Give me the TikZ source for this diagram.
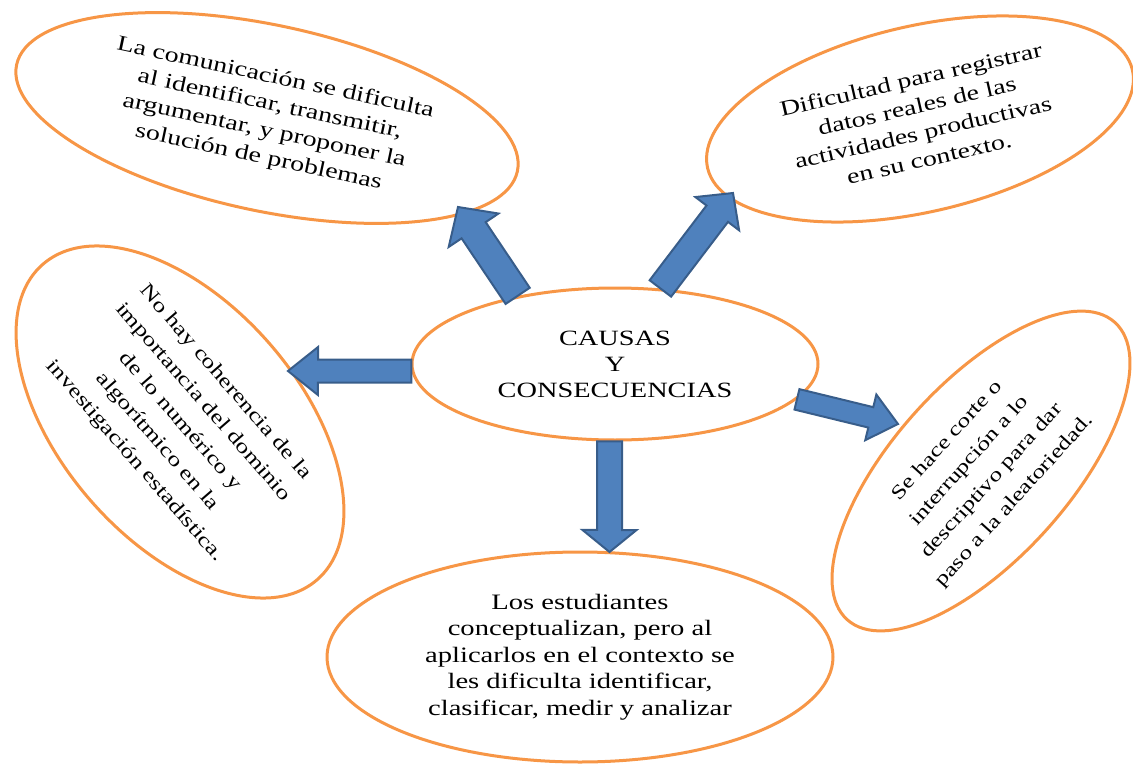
\documentclass[tikz,border=0pt]{standalone}
\usepackage{fontspec}
\newfontfamily\ccfont{Liberation Serif}[FakeStretch=1.3]
\usetikzlibrary{shapes.geometric,calc}
\definecolor{ccOrange}{HTML}{F79646}
\definecolor{ccBlue}{HTML}{4F81BD}
\definecolor{ccNavy}{HTML}{385D8A}
\tikzset{
  cc bubble/.style={ellipse, draw=ccOrange, fill=white, line width=3pt, inner sep=0pt, align=center, text=black},
  cc font/.style 2 args={font=\ccfont\fontsize{#1}{#2}\selectfont},
  cc arrow/.style={fill=ccBlue, draw=ccNavy, line width=2pt, line join=miter},
}
% block arrow: base, tip, half shaft, half head, head length
\newcommand{\ccarrow}[5]{%
  \coordinate (neck) at ($(#2)!#5!(#1)$);
  \draw[cc arrow] ($(#1)!#3!90:(#2)$) -- ($(neck)!#3!90:(#2)$) -- ($(neck)!#4!90:(#2)$) -- (#2)
    -- ($(neck)!#4!-90:(#2)$) -- ($(neck)!#3!-90:(#2)$) -- ($(#1)!#3!-90:(#2)$) -- cycle;}

\begin{document}
\begin{tikzpicture}[x=1pt,y=1pt]
\useasboundingbox (0,0) rectangle (1133,-765);
% bubbles
\node[cc bubble, cc font={21.8}{26}, minimum width=406, minimum height=152] (cen) at (615,-364) {CAUSAS\\Y\\CONSECUENCIAS};
\node[cc bubble, cc font={21.5}{27}, rotate=-12, minimum width=512, minimum height=186] (com) at (267,-118)
  {La comunicación se dificulta\\al identificar, transmitir,\\argumentar, y proponer la\\solución de problemas};
\node[cc bubble, cc font={21.5}{27}, rotate=13, minimum width=436, minimum height=186] (dat) at (920,-119)
  {Dificultad para registrar\\datos reales de las\\actividades productivas\\en su contexto.};
\node[cc bubble, cc font={20}{30}, rotate=-49, minimum width=418, minimum height=238] (coh) at (180,-422)
  {No hay coherencia de la\\importancia del dominio\\de lo numérico y\\algorítmico en la\\investigación estadística.};
\node[cc bubble, cc font={19.5}{30}, rotate=48, minimum width=400, minimum height=176] (ale) at (981,-471)
  {Se hace corte o\\interrupción a lo\\descriptivo para dar\\paso a la aleatoriedad.};
\node[cc bubble, cc font={22}{26.4}, minimum width=506, minimum height=210] (est) at (580,-657)
  {Los estudiantes\\conceptualizan, pero al\\aplicarlos en el contexto se\\les dificulta identificar,\\clasificar, medir y analizar};
% arrow tips
\coordinate (tipCom) at (458,-207);
\coordinate (tipDat) at (733,-193);
\coordinate (tipCoh) at (288,-371);
\coordinate (tipAle) at (898,-424);
\coordinate (tipEst) at (609.5,-552);
% arrows
\ccarrow{cen.145}{tipCom}{14.5pt}{30pt}{28pt}
\ccarrow{cen.59}{tipDat}{13.5pt}{27.5pt}{26pt}
\ccarrow{cen.182}{tipCoh}{11.5pt}{24pt}{30pt}
\ccarrow{cen.-11}{tipAle}{10.5pt}{23.5pt}{28pt}
\ccarrow{cen.-94}{tipEst}{12.5pt}{27pt}{22pt}
\end{tikzpicture}
\end{document}
